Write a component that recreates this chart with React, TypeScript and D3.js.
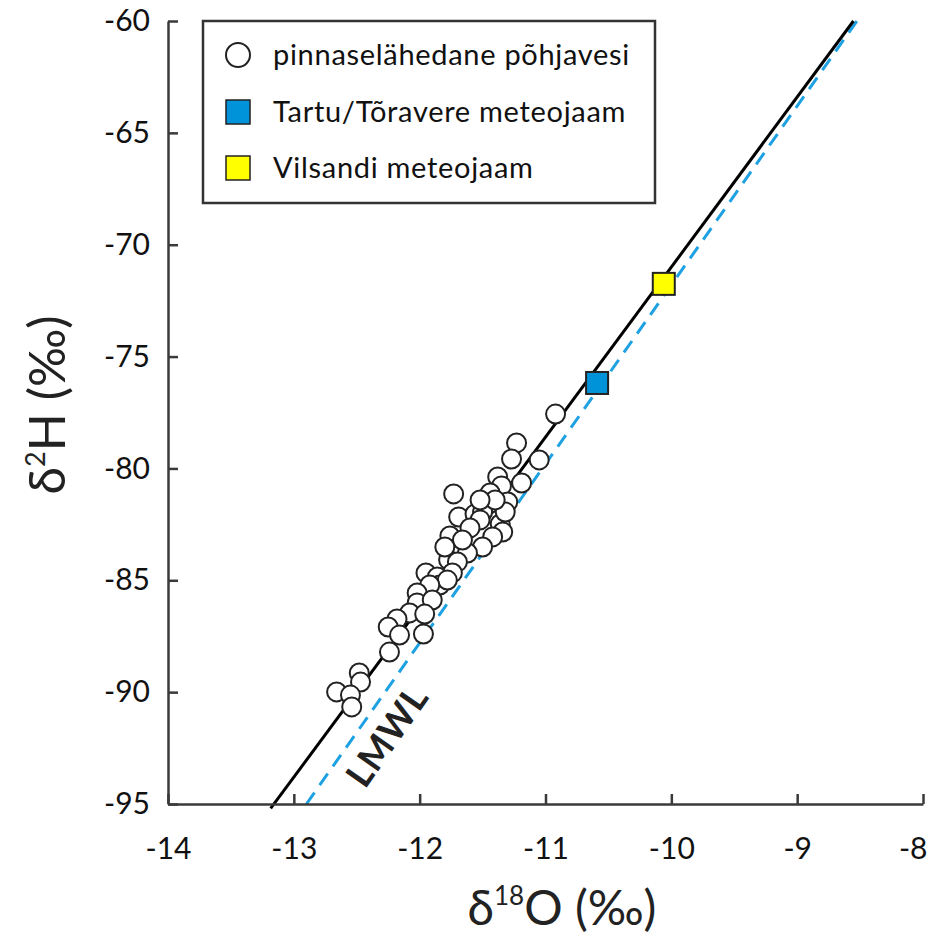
import React, { useEffect, useRef } from 'react'
import * as d3 from 'd3'

// groundwater samples, d18O and d2H (permil)
const gwO = [
  -10.92, -11.23, -11.27, -11.05, -11.19, -11.38, -11.35, -11.44, -11.30, -11.45,
  -11.73, -11.69, -11.56, -11.50, -11.36, -11.34, -11.42, -11.50, -11.62, -11.76,
  -11.77, -11.70, -11.74, -11.95, -11.86, -11.84, -11.78, -11.92, -12.02, -12.02,
  -11.90, -12.08, -11.96, -12.18, -12.25, -12.16, -11.97, -12.24, -12.48, -12.47,
  -12.66, -12.55, -12.54, -11.52, -11.60, -11.66, -11.32, -11.40, -11.52, -11.80
]
const gwH = [
  -77.57, -78.86, -79.58, -79.62, -80.65, -80.38, -80.78, -81.10, -81.50, -81.59,
  -81.14, -82.17, -82.04, -81.95, -82.48, -82.84, -83.06, -83.51, -83.78, -83.02,
  -84.09, -84.18, -84.67, -84.67, -84.85, -85.21, -84.99, -85.21, -85.57, -86.01,
  -85.88, -86.46, -86.51, -86.73, -87.09, -87.45, -87.40, -88.21, -89.14, -89.55,
  -89.99, -90.13, -90.66, -82.30, -82.66, -83.20, -81.95, -81.41, -81.41, -83.51
]

const stationNames = ['Tartu/Tõravere meteojaam', 'Vilsandi meteojaam']
const stationO = [-10.59, -10.06]
const stationH = [-76.18, -71.75]
const stationColors = ['#0093d9', '#ffff00']

// lines: d2H = slope * d18O + intercept
const lmwl = { slope: 7.6, intercept: 5.0 }
const gmwl = { slope: 8.0, intercept: 8.2 }

const xTicks = [-14, -13, -12, -11, -10, -9, -8]
const yTicks = [-95, -90, -85, -80, -75, -70, -65, -60]

const FONT = 'Lato, "Open Sans", sans-serif'
const AXIS = '#3a3a3a'

export default function App() {
  const ref = useRef<SVGSVGElement>(null)

  useEffect(() => {
    const svg = d3.select(ref.current)
    svg.selectAll('*').remove()

    const x = d3.scaleLinear().domain([-14, -8]).range([168, 923])
    const y = d3.scaleLinear().domain([-95, -60]).range([804, 21])

    // mwl lines
    const lineGen = d3.line<number[]>().x(d => x(d[0])).y(d => y(d[1]))
    const seg = (l: { slope: number; intercept: number }, y0: number, y1: number) =>
      [[(y0 - l.intercept) / l.slope, y0], [(y1 - l.intercept) / l.slope, y1]]

    svg.append('path')
      .attr('d', lineGen(seg(gmwl, -95, -60)))
      .attr('fill', 'none')
      .attr('stroke', '#1ea1e3')
      .attr('stroke-width', 3)
      .attr('stroke-dasharray', '14 9')

    svg.append('path')
      .attr('d', lineGen(seg(lmwl, -95.2, -60)))
      .attr('fill', 'none')
      .attr('stroke', '#000')
      .attr('stroke-width', 3)

    // axes (plain hyphen minus like the original)
    const fmt = (d: d3.NumberValue) => String(d)
    const yAxis = svg.append('g')
      .attr('transform', `translate(${x(-14)},0)`)
      .call(d3.axisLeft(y).tickValues(yTicks).tickSizeInner(-10).tickSizeOuter(0).tickPadding(18).tickFormat(fmt))
    const xAxis = svg.append('g')
      .attr('transform', `translate(0,${y(-95)})`)
      .call(d3.axisBottom(x).tickValues(xTicks).tickSizeInner(-10).tickSizeOuter(0).tickPadding(34).tickFormat(fmt))

    ;[yAxis, xAxis].forEach(a => {
      a.attr('font-size', null).attr('font-family', null)
      a.select('.domain').attr('stroke', AXIS).attr('stroke-width', 2.5)
      a.selectAll('.tick line').attr('stroke', AXIS).attr('stroke-width', 2.5)
      a.selectAll('.tick text')
        .attr('fill', '#111')
        .attr('font-family', FONT)
        .attr('font-size', 30)
    })
    // last label sits a bit left, as in the original
    xAxis.selectAll<SVGTextElement, number>('.tick text')
      .filter(d => d === -8)
      .attr('text-anchor', 'end')
      .attr('x', 4)

    // groundwater points
    svg.append('g')
      .selectAll('circle')
      .data(d3.range(gwO.length))
      .join('circle')
      .attr('cx', i => x(gwO[i]))
      .attr('cy', i => y(gwH[i]))
      .attr('r', 9.5)
      .attr('fill', '#fff')
      .attr('stroke', '#222')
      .attr('stroke-width', 2)

    // stations
    const sq = 22
    svg.append('g')
      .selectAll('rect')
      .data(d3.range(stationO.length))
      .join('rect')
      .attr('x', i => x(stationO[i]) - sq / 2)
      .attr('y', i => y(stationH[i]) - sq / 2)
      .attr('width', sq)
      .attr('height', sq)
      .attr('fill', i => stationColors[i])
      .attr('stroke', '#222')
      .attr('stroke-width', 2)

    // LMWL label
    svg.append('text')
      .attr('transform', `translate(390,738) rotate(-55)`)
      .attr('text-anchor', 'middle')
      .attr('dominant-baseline', 'middle')
      .attr('font-family', FONT)
      .attr('font-weight', 700)
      .attr('font-size', 36)
      .attr('letter-spacing', 1)
      .attr('fill', '#222')
      .text('LMWL')

    // legend
    const lg = svg.append('g')
    lg.append('rect')
      .attr('x', 203).attr('y', 21).attr('width', 452).attr('height', 182)
      .attr('fill', '#fff').attr('stroke', '#333').attr('stroke-width', 2.5)
    const rows = [55, 112, 168]
    lg.append('circle').attr('cx', 238).attr('cy', rows[0]).attr('r', 12)
      .attr('fill', '#fff').attr('stroke', '#222').attr('stroke-width', 2)
    stationColors.forEach((c, i) => {
      lg.append('rect')
        .attr('x', 238 - 12).attr('y', rows[i + 1] - 12).attr('width', 24).attr('height', 24)
        .attr('fill', c).attr('stroke', '#222').attr('stroke-width', 1.5)
    })
    const labels = ['pinnaselähedane põhjavesi', ...stationNames]
    labels.forEach((t, i) => {
      lg.append('text')
        .attr('x', 273).attr('y', rows[i])
        .attr('dy', '0.35em')
        .attr('font-family', FONT)
        .attr('font-size', 29)
        .attr('letter-spacing', 0.7)
        .attr('fill', '#111')
        .text(t)
    })

    // axis titles
    const xt = svg.append('text')
      .attr('x', 562).attr('y', 925)
      .attr('text-anchor', 'middle')
      .attr('font-family', FONT)
      .attr('font-size', 48)
      .attr('fill', '#222')
    xt.append('tspan').text('δ')
    xt.append('tspan').attr('font-size', 26).attr('dy', -20).text('18')
    xt.append('tspan').attr('dy', 20).text('O (‰)')

    const yt = svg.append('text')
      .attr('transform', 'translate(65,405) rotate(-90)')
      .attr('text-anchor', 'middle')
      .attr('font-family', FONT)
      .attr('font-size', 50)
      .attr('fill', '#222')
    yt.append('tspan').text('δ')
    yt.append('tspan').attr('font-size', 27).attr('dy', -20).text('2')
    yt.append('tspan').attr('dy', 20).text('H (‰)')
  }, [])

  return (
    <svg
      ref={ref}
      width={937}
      height={937}
      style={{ position: 'absolute', left: 0, top: 0, background: '#fff' }}
    />
  )
}
